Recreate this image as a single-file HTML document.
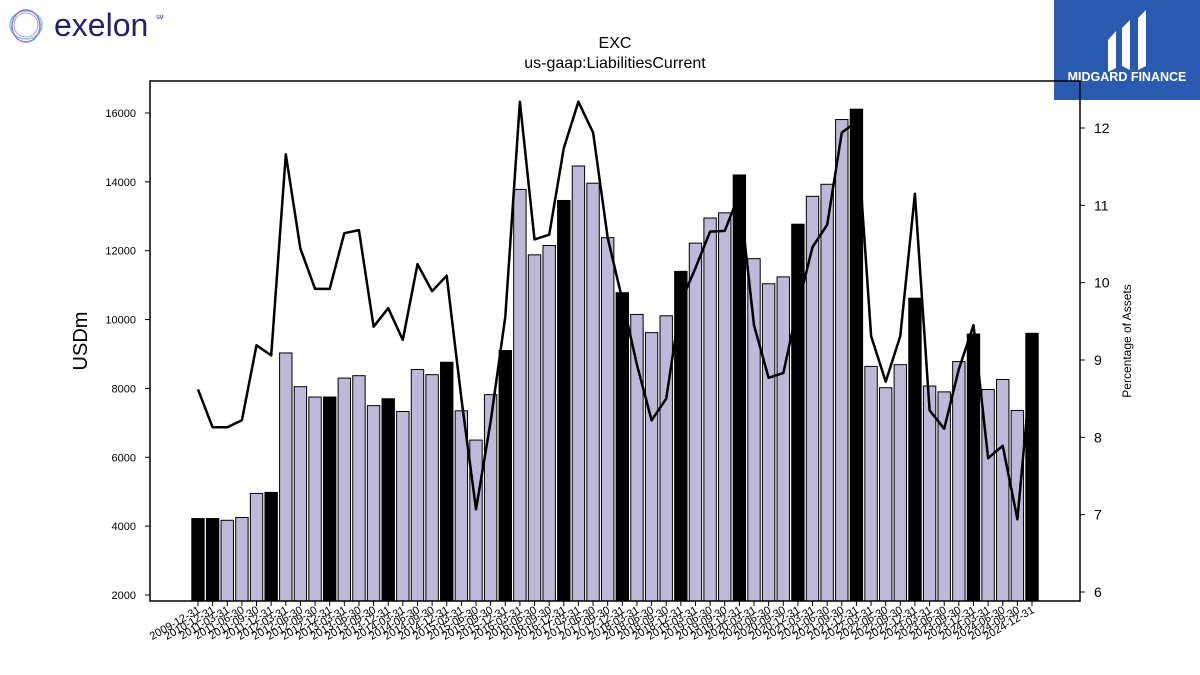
<!DOCTYPE html>
<html><head><meta charset="utf-8"><style>
html,body{margin:0;padding:0;background:#fff;}
svg{display:block;font-family:"Liberation Sans","DejaVu Sans",sans-serif;}
</style></head><body>
<svg id="chart" width="1200" height="675" viewBox="0 0 1200 675" xmlns="http://www.w3.org/2000/svg">
  <g>
    <ellipse cx="26" cy="25" rx="16" ry="14" fill="none" stroke="#6fd6c4" stroke-width="1.5"/>
    <ellipse cx="26" cy="26" rx="14" ry="16" fill="none" stroke="#9a6fd8" stroke-width="1.5"/>
    <ellipse cx="26" cy="25" rx="12" ry="12" fill="none" stroke="#b89ae8" stroke-width="1"/>
    <text x="54" y="36" font-size="32" fill="#25206a">exelon</text>
    <text x="156" y="19" font-size="5" fill="#25206a">SM</text>
  </g>
  <g>
    <rect x="1054" y="0" width="146" height="100" fill="#2b5bb0"/>
    <path d="M1108 40 L1116 31 L1116 68 L1108 72 Z" fill="#fff"/>
    <path d="M1122 28 L1130 20 L1130 70 L1122 66 Z" fill="#fff"/>
    <path d="M1138 18 L1146 10 L1146 66 L1138 70 Z" fill="#fff"/>
    <text x="1127" y="81" font-size="12.5" font-weight="bold" fill="#fff" text-anchor="middle">MIDGARD FINANCE</text>
  </g>
  <text x="615" y="48" font-size="16" text-anchor="middle">EXC</text>
  <text x="615" y="68" font-size="16" text-anchor="middle">us-gaap:LiabilitiesCurrent</text>
  <text transform="translate(87,341) rotate(-90)" font-size="20" text-anchor="middle">USDm</text>
  <text transform="translate(1131,341) rotate(-90)" font-size="12" text-anchor="middle">Percentage of Assets</text>
  <g id="bars"></g>
  <g id="line"></g>
  <g id="axes"></g>
  <rect x="150" y="81" width="930" height="520" fill="none" stroke="#000" stroke-width="1.5"/>
</svg>
<script>
const categories = ["2009-12-31","2010-12-31","2011-03-31","2011-06-30","2011-09-30","2011-12-31","2012-03-31","2012-06-30","2012-09-30","2012-12-31","2013-03-31","2013-06-30","2013-09-30","2013-12-31","2014-03-31","2014-06-30","2014-09-30","2014-12-31","2015-03-31","2015-06-30","2015-09-30","2015-12-31","2016-03-31","2016-06-30","2016-09-30","2016-12-31","2017-03-31","2017-06-30","2017-09-30","2017-12-31","2018-03-31","2018-06-30","2018-09-30","2018-12-31","2019-03-31","2019-06-30","2019-09-30","2019-12-31","2020-03-31","2020-06-30","2020-09-30","2020-12-31","2021-03-31","2021-06-30","2021-09-30","2021-12-31","2022-03-31","2022-06-30","2022-09-30","2022-12-31","2023-03-31","2023-06-30","2023-09-30","2023-12-31","2024-03-31","2024-06-30","2024-09-30","2024-12-31"];
const liabilities = [4220,4220,4170,4250,4950,4980,9030,8050,7750,7750,8300,8370,7500,7700,7330,8550,8400,8760,7350,6500,7820,9100,13780,11880,12150,13460,14460,13960,12380,10780,10150,9620,10110,11400,12220,12950,13100,14200,11770,11040,11240,12770,13580,13930,15810,16110,8640,8020,8690,10620,8070,7900,8780,9580,7970,8260,7360,9600];
const pctAssets = [8.62,8.13,8.13,8.22,9.19,9.06,11.66,10.44,9.92,9.92,10.64,10.68,9.43,9.67,9.26,10.24,9.89,10.09,8.5,7.07,8.2,9.56,12.34,10.56,10.62,11.74,12.34,11.94,10.58,9.78,8.94,8.22,8.5,9.75,10.19,10.66,10.67,11.15,9.45,8.77,8.83,9.7,10.46,10.75,11.94,12.08,9.31,8.72,9.31,11.15,8.35,8.11,8.88,9.45,7.73,7.89,6.94,9.0];
const leftTicks = [2000,4000,6000,8000,10000,12000,14000,16000];
const rightTicks = [6,7,8,9,10,11,12];

const NS="http://www.w3.org/2000/svg";
const yL = v => 595 - (v-2000)*(482/14000);
const yR = v => 592 - (v-6)*(464/6);
const yBottom = 601;
const xC = i => 198 + i*(834/(categories.length-1));
const bw = 12.4;
function mk(tag, attrs, parent){const e=document.createElementNS(NS,tag);for(const k in attrs)e.setAttribute(k,attrs[k]);parent.appendChild(e);return e;}
const gb=document.getElementById('bars'), gl=document.getElementById('line'), ga=document.getElementById('axes');
categories.forEach((c,i)=>{
  const y=yL(liabilities[i]);
  const black=c.endsWith('12-31');
  const r=mk('rect',{x:xC(i)-bw/2,y:y,width:bw,height:yBottom-y,fill:black?'#000':'#bcb9d9',stroke:'#000','stroke-width':1},gb);
  
  
  const t=mk('line',{x1:xC(i),x2:xC(i),y1:601,y2:606,stroke:'#000','stroke-width':1},ga);
  
  
  const lb=mk('text',{transform:`translate(${xC(i)+3},${612}) rotate(-30)`,'font-size':11,'text-anchor':'end'},ga);
  lb.textContent=c;
  
  
});
const pts=pctAssets.map((v,i)=>xC(i).toFixed(1)+','+yR(v).toFixed(1)).join(' ');
const pl=mk('polyline',{points:pts,fill:'none',stroke:'#000','stroke-width':2.5,'stroke-linejoin':'round'},gl);


leftTicks.forEach(v=>{
  const t=mk('line',{x1:145,x2:150,y1:yL(v),y2:yL(v),stroke:'#000'},ga);
  
  
  const l=mk('text',{x:136,y:yL(v)+4,'font-size':11,'text-anchor':'end'},ga);
  l.textContent=v;
  
  
});
rightTicks.forEach(v=>{
  const t=mk('line',{x1:1080,x2:1085,y1:yR(v),y2:yR(v),stroke:'#000'},ga);
  
  
  const l=mk('text',{x:1094,y:yR(v)+5,'font-size':14},ga);
  l.textContent=v;
  
  
});
</script>
</body></html>
